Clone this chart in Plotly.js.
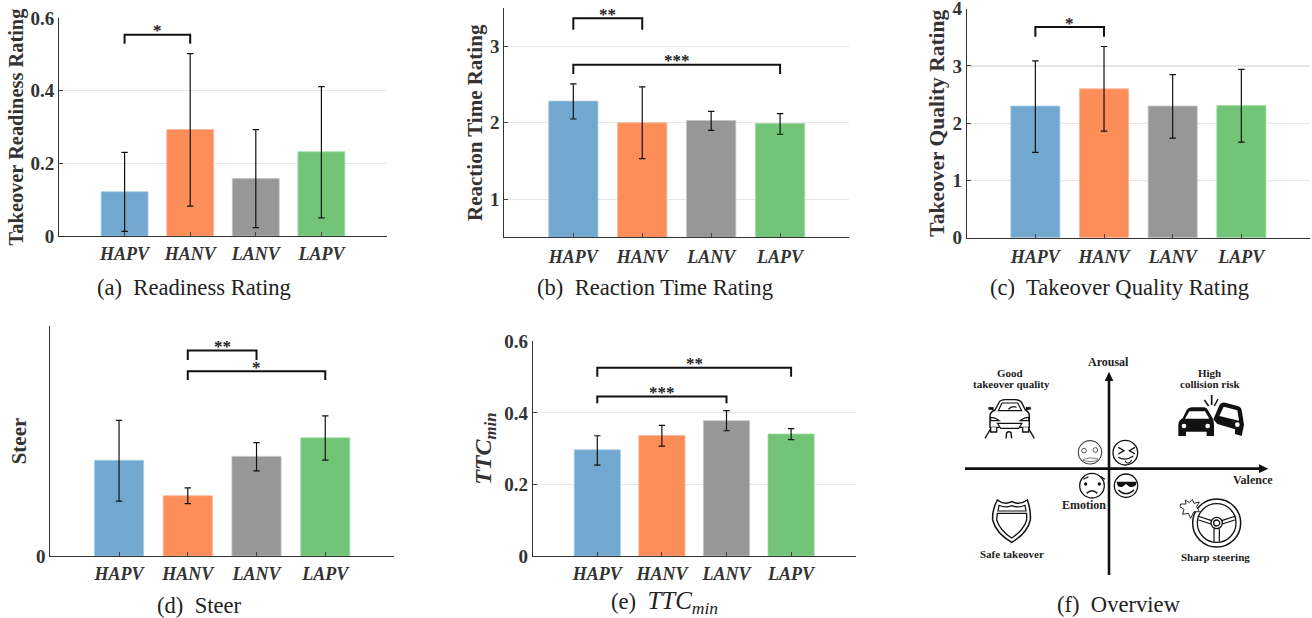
<!DOCTYPE html>
<html><head><meta charset="utf-8">
<script src="https://cdn.plot.ly/plotly-3.0.1.min.js"></script>
<style>html,body{margin:0;padding:0;background:#fff}#c{width:1312px;height:618px}</style>
</head><body><div id="c"></div>
<script>
const categories = ['HAPV','HANV','LANV','LAPV'];
const barColors = ['#72a8d0','#fd8d59','#979797','#72c476'];
const barEdges = ['#a9cbe3','#fdb596','#c4c4c4','#a5dba8'];

const readinessValues = [0.122,0.293,0.158,0.232];
const readinessHigh = [0.230,0.502,0.293,0.411];
const readinessLow = [0.013,0.082,0.023,0.050];

const reactionValues = [2.285,2.00,2.03,1.99];
const reactionHigh = [2.51,2.47,2.15,2.12];
const reactionLow = [2.05,1.53,1.90,1.85];

const qualityValues = [2.30,2.60,2.30,2.31];
const qualityHigh = [3.09,3.34,2.85,2.94];
const qualityLow = [1.49,1.86,1.74,1.67];

const steerValues = [0.416,0.262,0.433,0.514];
const steerHigh = [0.590,0.296,0.493,0.609];
const steerLow = [0.239,0.228,0.370,0.417];

const ttcValues = [0.297,0.337,0.378,0.341];
const ttcHigh = [0.336,0.365,0.406,0.356];
const ttcLow = [0.254,0.307,0.350,0.325];

// brackets: first bar, last bar, foot level, top level, stars
const readinessBrackets = [[1,2,0.529,0.554,'*']];
const reactionBrackets = [[1,2,3.22,3.37,'**'],[1,4,2.64,2.76,'***']];
const qualityBrackets = [[1,2,3.51,3.68,'*']];
const steerBrackets = [[2,3,0.852,0.893,'**'],[2,4,0.765,0.803,'*']];
const ttcBrackets = [[1,4,0.501,0.526,'**'],[1,3,0.427,0.446,'***']];

const W = 1312, H = 618;
const SERIF = '"Liberation Serif","Times New Roman",serif';
const INK = '#333';

const panels = [
 {v:readinessValues,h:readinessHigh,l:readinessLow,b:readinessBrackets,box:[59,387,18,236],range:[0,0.6],ticks:[0,0.2,0.4,0.6],labels:['0','0.2','0.4','0.6'],title:'Takeover Readiness Rating',standoff:1,titleSize:20.4,labelGap:1,cap:'(a)  Readiness Rating',capx:194,capy:287},
 {v:reactionValues,h:reactionHigh,l:reactionLow,b:reactionBrackets,box:[504.4,849,8.3,237.3],range:[0.5,3.5],ticks:[1,2,3],labels:['1','2','3'],title:'Reaction Time Rating',standoff:1,titleSize:21,labelGap:3,cap:'(b)  Reaction Time Rating',capx:655,capy:287},
 {v:qualityValues,h:qualityHigh,l:qualityLow,b:qualityBrackets,box:[966.7,1310,8.7,237.7],range:[0,4],ticks:[0,1,2,3,4],labels:['0','1','2','3','4'],title:'Takeover Quality Rating',standoff:1,titleSize:21.5,labelGap:3,cap:'(c)  Takeover Quality Rating',capx:1119,capy:287},
 {v:steerValues,h:steerHigh,l:steerLow,b:steerBrackets,box:[50.3,394,326,556],range:[0,1],ticks:[0],labels:['0'],title:'Steer',standoff:3,titleSize:21,labelGap:1,cap:'(d)  Steer',capx:199,capy:605},
 {v:ttcValues,h:ttcHigh,l:ttcLow,b:ttcBrackets,box:[532.7,855.7,341.3,556],range:[0,0.6],ticks:[0,0.2,0.4,0.6],labels:['0','0.2','0.4','0.6'],title:'<i>TTC<sub>min</sub></i>',standoff:5,titleSize:24,labelGap:1,cap:'(e)  <span style="font-size:25px"><i>TTC<sub>min</sub></i></span>',capx:664,capy:602}
];

const traces = [], annotations = [], shapes = [];
const layout = {width:W,height:H,margin:{l:0,r:0,t:0,b:0},paper_bgcolor:'#fff',plot_bgcolor:'rgba(0,0,0,0)',showlegend:false,bargap:0};

panels.forEach((p,k)=>{
  const n = k+1, xa = n===1?'x':'x'+n, ya = n===1?'y':'y'+n;
  const xk = n===1?'xaxis':'xaxis'+n, yk = n===1?'yaxis':'yaxis'+n;
  layout[xk] = {domain:[p.box[0]/W,p.box[1]/W],range:[0,5],anchor:ya,tickmode:'array',tickvals:[1,2,3,4],ticktext:categories,
    tickfont:{family:SERIF,size:18,color:INK,weight:'bold',style:'italic'},ticks:'inside',ticklen:4,tickcolor:'#444',tickwidth:1,
    showline:true,linecolor:'#333',linewidth:1,showgrid:false,zeroline:false,fixedrange:true,ticklabelstandoff:p.labelGap};
  layout[yk] = {domain:[1-p.box[3]/H,1-p.box[2]/H],range:p.range,anchor:xa,tickmode:'array',tickvals:p.ticks,ticktext:p.labels,
    tickfont:{family:SERIF,size:19,color:INK,weight:'bold'},ticks:'inside',ticklen:4,tickcolor:'#444',tickwidth:1,ticklabeloverflow:'allow',
    showline:true,linecolor:'#333',linewidth:1,showgrid:true,gridcolor:'#e6e6e6',gridwidth:1.2,zeroline:false,fixedrange:true,
    title:{text:p.title,standoff:p.standoff,font:{family:SERIF,size:p.titleSize,color:INK,weight:'bold'}}};
  const floor = p.range[0];
  traces.push({type:'bar',x:[1,2,3,4],y:p.v.map(x=>x-floor),base:floor,width:0.715,xaxis:xa,yaxis:ya,hoverinfo:'skip',
    marker:{color:barColors,line:{color:barEdges,width:0.8}},
    error_y:{type:'data',symmetric:false,array:p.h.map((x,i)=>x-p.v[i]),arrayminus:p.v.map((x,i)=>x-p.l[i]),color:'#111',thickness:1.2,width:3.2}});
  p.b.forEach(b=>{
    traces.push({type:'scatter',mode:'lines',x:[b[0],b[0],b[1],b[1]],y:[b[2],b[3],b[3],b[2]],xaxis:xa,yaxis:ya,hoverinfo:'skip',
      line:{color:'#111',width:2}});
    annotations.push({xref:xa,yref:ya,x:(b[0]+b[1])/2,y:b[3],text:b[4],showarrow:false,yanchor:'bottom',yshift:-7.5,
      font:{family:SERIF,size:17,color:'#222',weight:'bold'}});
  });
  annotations.push({xref:'paper',yref:'paper',x:p.capx/W,y:1-p.capy/H,text:p.cap,showarrow:false,xanchor:'center',yanchor:'middle',
    font:{family:SERIF,size:22.6,color:'#222'}});
});

// panel (f): a schematic drawn on hidden axes
layout.xaxis6 = {domain:[940/W,1],range:[0,1116],anchor:'y6',visible:false,fixedrange:true};
layout.yaxis6 = {domain:[0,288/H],range:[864,0],anchor:'x6',visible:false,fixedrange:true};
const valenceAxis = {x:[75,962],y:[416,416]};
const arousalAxis = {x:[507,507],y:[735,150]};
[valenceAxis,arousalAxis].forEach(a=>traces.push({type:'scatter',mode:'lines',x:a.x,y:a.y,xaxis:'x6',yaxis:'y6',hoverinfo:'skip',line:{color:'#111',width:2.6}}));

const S = (path,fill,w,col)=>shapes.push({type:'path',xref:'x6',yref:'y6',path,fillcolor:fill||'rgba(0,0,0,0)',line:{color:col||'#111',width:w===undefined?1.2:w}});
const C = (x,y,r,fill,w,col)=>shapes.push({type:'circle',xref:'x6',yref:'y6',x0:x-r,x1:x+r,y0:y-r,y1:y+r,fillcolor:fill||'rgba(0,0,0,0)',line:{color:col||'#111',width:w===undefined?1.2:w}});
// arrows
S('M957,403 L985,416 L957,429 Z','#111',0);
S('M494,153 L507,125 L520,153 Z','#111',0);
// good car
S('M150,292 L150,258 Q150,246 165,240 L178,216 Q182,209 196,209 L226,209 Q240,209 245,218 L256,240 Q268,246 268,258 L268,292 Z','#fff',1.4);
S('M175,242 L186,219 L233,219 L245,242 Z','#fff',1.2);
S('M205,238 Q215,225 230,232','rgba(0,0,0,0)',1.2);
S('M152,262 Q165,262 178,272 L152,272 Z','#fff',1.1);
S('M266,262 Q253,262 240,272 L266,272 Z','#fff',1.1);
S('M172,280 L246,280 L236,295 L182,295 Z','#fff',1.1);
S('M152,292 L152,306 L170,306 L170,292','#fff',1.3);
S('M248,292 L248,306 L266,306 L266,292','#fff',1.3);
S('M146,232 L160,232 L160,240 L146,238 Z','#111',0.5);
S('M258,232 L272,232 L272,238 L258,240 Z','#111',0.5);
S('M135,325 L152,296','rgba(0,0,0,0)',1.3);
S('M283,325 L266,296','rgba(0,0,0,0)',1.3);
S('M198,325 L200,308 Q207,302 213,308 L215,325','rgba(0,0,0,0)',1.4);
// crash
S('M715,318 L715,285 Q715,271 728,265 L740,240 Q745,232 755,232 L790,232 Q800,232 805,242 L818,265 Q822,272 822,285 L822,318 L800,318 L800,305 L738,305 L738,318 Z','#111',0);
S('M735,266 L748,244 L795,244 L808,266 Z','#fff',0);
C(732,288,7,'#fff',0); C(803,288,7,'#fff',0);
S('M820,268 L838,226 Q843,215 856,218 L893,228 Q905,232 906,245 L912,285 L905,318 L885,312 L885,298 L832,282 Z','#111',0);
S('M838,258 L851,230 L892,241 L897,272 Z','#fff',0);
C(892,284,7,'#fff',0);
S('M815,195 L815,225','rgba(0,0,0,0)',1.7);
S('M793,210 L806,228','rgba(0,0,0,0)',1.5);
S('M834,207 L823,228','rgba(0,0,0,0)',1.5);
// shield
S('M172,510 Q192,526 215,515 Q240,526 262,510 Q273,540 271,570 Q262,610 215,637 Q168,610 158,570 Q156,540 172,510 Z','#fff',1.5);
S('M172,550 L260,550 L260,570 Q250,602 215,624 Q180,602 170,570 Z','#fff',1.3);
S('M177,526 Q196,535 215,527 Q236,535 255,526 L258,543 L174,543 Z','#fff',1.2);
// steering wheel
C(830,579,72,'#fff',1.5); C(830,579,58,'#fff',1.3); C(830,579,17,'#fff',1.3); C(830,579,9,'#fff',1.3);
S('M773,558 L815,572','rgba(0,0,0,0)',1.2); S('M776,570 L813,582','rgba(0,0,0,0)',1.2);
S('M887,558 L845,572','rgba(0,0,0,0)',1.2); S('M884,570 L847,582','rgba(0,0,0,0)',1.2);
S('M822,596 L822,635','rgba(0,0,0,0)',1.2); S('M838,596 L838,635','rgba(0,0,0,0)',1.2);
S('M722,522 L738,522 L736,510 L748,518 L757,508 L762,520 L778,516 L770,530 L778,545 L762,545 L752,565 L745,550 L728,553 L732,538 L720,530 Z','#fff',0.9);
// emotion faces
C(450,367,35,'#fff',1.1,'#444');
C(432,362,7,'#fff',0.9,'#444'); C(466,360,7,'#fff',0.9,'#444');
S('M430,388 Q450,380 472,386 L472,392 Q450,398 430,392 Z','#fff',0.8,'#555');
C(556,368,37,'#fff',1.3);
S('M535,352 L552,362 L535,372','rgba(0,0,0,0)',1.3); S('M585,352 L568,362 L585,372','rgba(0,0,0,0)',1.3);
S('M535,382 Q556,395 580,378','rgba(0,0,0,0)',1.2); S('M555,392 Q565,408 575,390','rgba(0,0,0,0)',1.1);
C(456,467,37,'#fff',1.3);
C(437,462,5,'#111',0); C(478,462,5,'#111',0);
S('M430,448 L445,440','rgba(0,0,0,0)',1.2); S('M482,440 L495,448','rgba(0,0,0,0)',1.2);
S('M440,490 Q456,475 472,490','rgba(0,0,0,0)',1.5);
C(558,467,35,'#fff',1.3);
S('M530,455 L590,455 L588,465 Q580,474 568,470 L558,462 L548,470 Q536,474 532,465 Z','#111',0);
S('M535,480 Q558,502 582,480','rgba(0,0,0,0)',1.3);

const overviewLabels = [
 ['Arousal',506,97,12],['Good',211,128,11],['takeover quality',215,161,11],['High',807,128,11],['collision risk',811,161,11],
 ['Valence',940,451,12],['Emotion',433,526,12],['Safe takeover',217,671,11],['Sharp steering',826,681,11]
];
overviewLabels.forEach(t=>annotations.push({xref:'x6',yref:'y6',x:t[1],y:t[2],text:t[0],showarrow:false,xanchor:'center',yanchor:'middle',
  font:{family:SERIF,size:t[3],color:'#222',weight:'bold'}}));
annotations.push({xref:'paper',yref:'paper',x:1119/W,y:1-604/H,text:'(f)  Overview',showarrow:false,xanchor:'center',yanchor:'middle',font:{family:SERIF,size:22.6,color:'#222'}});

layout.annotations = annotations;
layout.shapes = shapes;
Plotly.newPlot('c',traces,layout,{displayModeBar:false,staticPlot:true});
</script></body></html>
